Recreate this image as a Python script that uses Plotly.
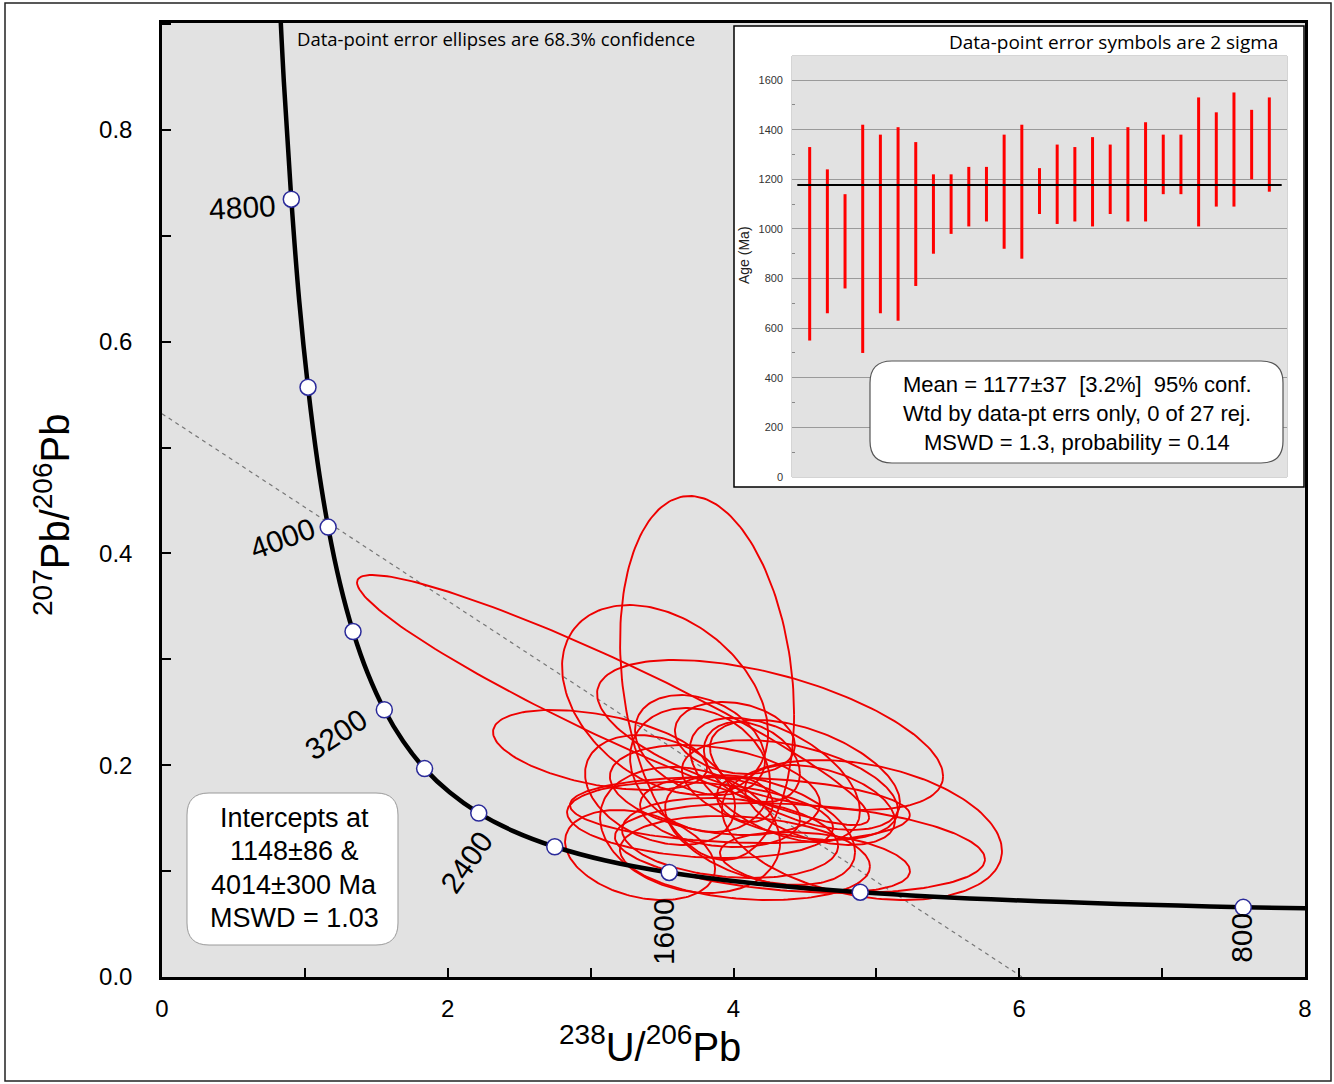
import numpy as np
import plotly.graph_objects as go

# ---------------- data ----------------
# Concordia curve, points (age in Ma, 238U/206Pb, 207Pb/206Pb)
conc_age = [600, 800, 1000, 1200, 1400, 1600, 1800, 2000, 2200, 2400, 2600, 2800,
            3000, 3200, 3400, 3600, 3800, 4000, 4200, 4400, 4600, 4800, 5000, 5200]
conc_x = [10.252, 7.568, 5.959, 4.887, 4.122, 3.550, 3.104, 2.749, 2.459, 2.217, 2.013, 1.838,
          1.688, 1.556, 1.440, 1.337, 1.245, 1.163, 1.089, 1.022, 0.960, 0.905, 0.853, 0.806]
conc_y = [0.0599, 0.0658, 0.0725, 0.0801, 0.0888, 0.0987, 0.1100, 0.1230, 0.1378, 0.1548, 0.1744, 0.1968,
          0.2226, 0.2524, 0.2867, 0.3263, 0.3720, 0.4249, 0.4861, 0.5570, 0.6392, 0.7346, 0.8453, 0.9735]
marker_ages = [800, 1200, 1600, 2000, 2400, 2800, 3200, 3600, 4000, 4400, 4800]
label_ages = ["800", "1600", "2400", "3200", "4000", "4800"]
label_x = [7.559, 3.507, 2.128, 1.218, 0.84, 0.56]
label_y = [0.037, 0.0425, 0.1086, 0.2286, 0.4146, 0.7263]
label_angle = [-90, -90, -55, -33, -20, -3]

# Discordia (regression) line end points
disc_x = [0.0, 6.02]
disc_y = [0.532, 0.0]

# Error ellipses: centre x, centre y, half-width x, half-height y, correlation
ell_cx = [3.157, 3.815, 3.521, 4.256, 4.899, 4.465, 3.066, 3.766, 3.696, 4.395, 4.080, 3.346, 3.766, 4.010,
          4.500, 4.129, 4.080, 4.045, 3.976, 4.570, 3.870, 3.766, 4.186, 4.605, 3.486, 4.290, 3.906]
ell_cy = [0.2616, 0.2824, 0.2616, 0.2286, 0.1388, 0.1218, 0.2144, 0.1483, 0.1388, 0.1766, 0.1124, 0.1152, 0.2191, 0.2257,
          0.1908, 0.2031, 0.1672, 0.1577, 0.1313, 0.1086, 0.1766, 0.1955, 0.1388, 0.1625, 0.1766, 0.1861, 0.1558]
ell_sx = [1.792, 0.609, 0.721, 1.211, 0.980, 1.295, 0.749, 0.931, 0.630, 0.756, 0.875, 0.525, 0.455, 0.420,
          0.665, 0.336, 0.196, 1.190, 0.756, 0.665, 0.735, 0.490, 0.665, 0.525, 0.525, 0.595, 0.560]
ell_sy = [0.1181, 0.1719, 0.0897, 0.0708, 0.0661, 0.0425, 0.0378, 0.0359, 0.0595, 0.0472, 0.0397, 0.0425, 0.0472, 0.0340,
          0.0519, 0.0378, 0.0208, 0.0312, 0.0378, 0.0283, 0.0425, 0.0586, 0.0519, 0.0378, 0.0519, 0.0586, 0.0331]
ell_rho = [-0.94, -0.2, -0.35, -0.55, -0.3, -0.25, -0.45, -0.2, -0.2, -0.4, -0.2, -0.3, -0.3, -0.2,
           -0.5, -0.3, -0.2, -0.15, -0.2, -0.3, -0.3, -0.2, -0.4, -0.4, -0.3, -0.5, -0.2]

# Inset: 2-sigma age error bars (Ma)
age_hi = [1330, 1240, 1140, 1420, 1380, 1410, 1350, 1220, 1220, 1250, 1250, 1380, 1420, 1245,
          1340, 1330, 1370, 1340, 1410, 1430, 1380, 1380, 1530, 1470, 1550, 1480, 1530]
age_lo = [550, 660, 760, 500, 660, 630, 770, 900, 980, 1010, 1030, 920, 880, 1060,
          1020, 1030, 1010, 1060, 1030, 1030, 1140, 1140, 1010, 1090, 1090, 1200, 1150]
mean_age = 1177

# ---------------- figure ----------------
W, H = 1334, 1084
L, R, T, B = 162, 1305, 23, 977


def pxx(x):
    return (x - L) / (R - L)


def pxy(y):
    return (B - y) / (B - T)


fig = go.Figure()

# discordia
fig.add_trace(go.Scatter(x=disc_x, y=disc_y, mode="lines",
                         line=dict(color="#777777", width=1.2, dash="4px,4px"),
                         hoverinfo="skip", showlegend=False))

# ellipses
ex, ey = [], []
t = np.linspace(0, 2 * np.pi, 181)
for cx, cy, sx, sy, r in zip(ell_cx, ell_cy, ell_sx, ell_sy, ell_rho):
    ex += list(cx + sx * np.cos(t)) + [None]
    ey += list(cy + sy * (r * np.cos(t) + np.sqrt(1 - r * r) * np.sin(t))) + [None]
fig.add_trace(go.Scatter(x=ex, y=ey, mode="lines", line=dict(color="#ee0000", width=1.9),
                         hoverinfo="skip", showlegend=False))

# concordia
fig.add_trace(go.Scatter(x=conc_x, y=conc_y, mode="lines", line=dict(color="black", width=4.5, shape="spline"),
                         hoverinfo="skip", showlegend=False))
mx = [conc_x[conc_age.index(a)] for a in marker_ages]
my = [conc_y[conc_age.index(a)] for a in marker_ages]
fig.add_trace(go.Scatter(x=mx, y=my, mode="markers",
                         marker=dict(size=16, color="white", line=dict(color="#2a2a9a", width=1.5)),
                         hoverinfo="skip", showlegend=False))

# inset error bars
bx, by = [], []
for i, (lo, hi) in enumerate(zip(age_lo, age_hi)):
    bx += [i + 1, i + 1, None]
    by += [lo, hi, None]
fig.add_trace(go.Scatter(x=bx, y=by, mode="lines", line=dict(color="#ff0000", width=3),
                         xaxis="x2", yaxis="y2", hoverinfo="skip", showlegend=False))
fig.add_trace(go.Scatter(x=[0.3, 27.7], y=[mean_age, mean_age], mode="lines",
                         line=dict(color="black", width=2),
                         xaxis="x2", yaxis="y2", hoverinfo="skip", showlegend=False))

# ---------------- shapes ----------------
shapes = []


def rrect(x0, y0, x1, y1, r):
    pts = [("M", [(x0 + r, y0)]), ("L", [(x1 - r, y0)]), ("Q", [(x1, y0), (x1, y0 + r)]),
           ("L", [(x1, y1 - r)]), ("Q", [(x1, y1), (x1 - r, y1)]), ("L", [(x0 + r, y1)]),
           ("Q", [(x0, y1), (x0, y1 - r)]), ("L", [(x0, y0 + r)]), ("Q", [(x0, y0), (x0 + r, y0)])]
    s = ""
    for cmd, p in pts:
        s += cmd + " " + " ".join("%.5f,%.5f" % (pxx(a), pxy(b)) for a, b in p) + " "
    return s + "Z"


# outer border of the picture
shapes.append(dict(type="rect", xref="paper", yref="paper", x0=pxx(5), x1=pxx(1331), y0=pxy(1081), y1=pxy(3),
                   line=dict(color="#222222", width=1.5), fillcolor="rgba(0,0,0,0)", layer="above"))
# inset white panel
shapes.append(dict(type="rect", xref="paper", yref="paper", x0=pxx(734), x1=pxx(1304), y0=pxy(487), y1=pxy(26),
                   line=dict(color="black", width=1.5), fillcolor="white", layer="below"))
# inset plot area background
shapes.append(dict(type="rect", xref="x2 domain", yref="y2 domain", x0=0, x1=1, y0=0, y1=1,
                   line=dict(color="#aaaaaa", width=1), fillcolor="#e2e2e2", layer="below"))
# text boxes
shapes.append(dict(type="path", xref="paper", yref="paper", path=rrect(187, 793, 398, 945, 22),
                   line=dict(color="#9a9a9a", width=1), fillcolor="white", layer="above"))
shapes.append(dict(type="path", xref="paper", yref="paper", path=rrect(870, 361, 1283, 463, 22),
                   line=dict(color="#555555", width=1.2), fillcolor="white", layer="above"))

# ---------------- annotations ----------------
ann = []
for txt, x, y, a in zip(label_ages, label_x, label_y, label_angle):
    ann.append(dict(text=txt, x=x, y=y, xref="x", yref="y", showarrow=False, textangle=a,
                    xanchor="center", yanchor="middle",
                    font=dict(family="Liberation Sans, Arial", size=30, color="black")))


def pann(text, x, y, size, family="Liberation Sans, Arial", xanchor="center", angle=0, color="black"):
    ann.append(dict(text=text, x=pxx(x), y=pxy(y), xref="paper", yref="paper", showarrow=False,
                    xanchor=xanchor, yanchor="middle", textangle=angle,
                    font=dict(family=family, size=size, color=color)))


pann("Data-point error ellipses are 68.3% confidence", 496, 39, 18.5, family="Open Sans")
pann("Data-point error symbols are 2 sigma", 1280, 42, 19, family="Open Sans", xanchor="right")
pann("<sup>238</sup>U/<sup>206</sup>Pb", 650, 1044, 40)
pann("<sup>207</sup>Pb/<sup>206</sup>Pb", 52, 515, 40, angle=-90)
pann("Age (Ma)", 744, 255, 14, angle=-90, color="#222222")

for txt, yy in zip(["Intercepts at", "1148±86 &", "4014±300 Ma", "MSWD = 1.03"], [818, 851, 885, 918]):
    pann(txt, 294, yy, 27)
for txt, yy in zip(["Mean = 1177±37 &nbsp;[3.2%] &nbsp;95% conf.", "Wtd by data-pt errs only, 0 of 27 rej.",
                    "MSWD = 1.3, probability = 0.14"], [385, 413, 442]):
    pann(txt, 1077, yy, 22)

# ---------------- layout ----------------
fig.update_layout(
    width=W, height=H,
    margin=dict(l=L, r=W - R, t=T, b=H - B, pad=0),
    paper_bgcolor="white", plot_bgcolor="#e2e2e2",
    showlegend=False,
    xaxis=dict(range=[0, 8], domain=[0, 1], showgrid=False, zeroline=False,
               showline=True, mirror=True, linecolor="black", linewidth=2.5,
               ticks="inside", ticklen=9, tickwidth=2, tickcolor="black",
               tick0=0, dtick=2, ticklabelstandoff=8,
               minor=dict(dtick=1, tick0=0, ticks="inside", ticklen=9, tickwidth=2,
                          tickcolor="black", showgrid=False),
               tickfont=dict(family="Liberation Sans, Arial", size=24, color="black")),
    yaxis=dict(range=[0, 0.901], domain=[0, 1], showgrid=False, zeroline=False,
               showline=True, mirror=True, linecolor="black", linewidth=2.5,
               ticks="inside", ticklen=9, tickwidth=2, tickcolor="black",
               tick0=0, dtick=0.2, tickformat=".1f", ticklabelstandoff=22,
               minor=dict(dtick=0.1, tick0=0, ticks="inside", ticklen=9, tickwidth=2,
                          tickcolor="black", showgrid=False),
               tickfont=dict(family="Liberation Sans, Arial", size=24, color="black")),
    xaxis2=dict(domain=[pxx(792), pxx(1287)], anchor="y2", range=[0, 28], showgrid=False, zeroline=False,
                showticklabels=False, ticks="", showline=False),
    yaxis2=dict(domain=[pxy(477), pxy(56)], anchor="x2", range=[0, 1697], showgrid=True,
                gridcolor="#9a9a9a", gridwidth=1.2, zeroline=False, dtick=200, tick0=0,
                ticks="", showline=False, ticklabelstandoff=8,
                tickfont=dict(family="Liberation Sans, Arial", size=11, color="#333333"),
                minor=dict(dtick=100, ticks="inside", ticklen=3, tickcolor="#888888", showgrid=False)),
    shapes=shapes,
    annotations=ann,
)

fig.write_html("out.html")
